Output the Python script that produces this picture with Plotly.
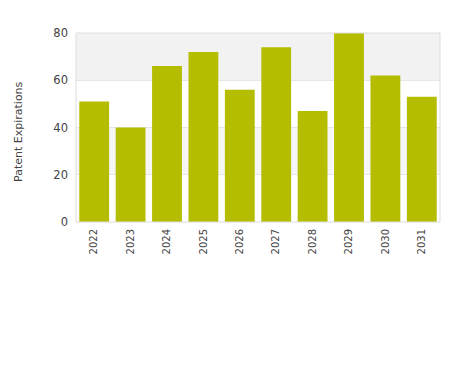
import plotly.graph_objects as go

years = ["2022", "2023", "2024", "2025", "2026", "2027", "2028", "2029", "2030", "2031"]
expirations = [51, 40, 66, 72, 56, 74, 47, 80, 62, 53]
y_ticks = [0, 20, 40, 60, 80]

fig = go.Figure(go.Bar(x=years, y=expirations, marker=dict(color="#b5bd00", line=dict(width=0))))

shapes = []
for lo, hi, col in [(20, 40, "#f6f6f6"), (60, 80, "#f2f2f2")]:
    shapes.append(dict(type="rect", xref="paper", yref="y", x0=0, x1=1, y0=lo, y1=hi,
                       fillcolor=col, line=dict(width=0), layer="below"))
shapes.append(dict(type="rect", xref="paper", yref="paper", x0=0, x1=1, y0=0, y1=1,
                   line=dict(color="#dddddd", width=1), layer="above"))

fig.update_layout(
    width=450, height=375,
    margin=dict(l=76, r=10, t=33, b=153),
    paper_bgcolor="white", plot_bgcolor="white",
    font=dict(family="DejaVu Sans", size=11, color="#444444"),
    bargap=0.18,
    shapes=shapes,
    showlegend=False,
    xaxis=dict(tickangle=-90, showgrid=False, ticks="", tickfont=dict(size=10),
               ticklabelstandoff=4),
    yaxis=dict(range=[0, 80], tickvals=y_ticks, showgrid=True, gridcolor="#e6e6e6",
               zeroline=False, ticks="", tickfont=dict(size=11.5), ticklabelstandoff=7),
    annotations=[dict(text="Patent Expirations", xref="paper", yref="paper",
                      x=-0.1566, y=0.4815, xanchor="center", yanchor="middle",
                      textangle=-90, showarrow=False, font=dict(size=11))],
)

fig.write_html("out.html")
